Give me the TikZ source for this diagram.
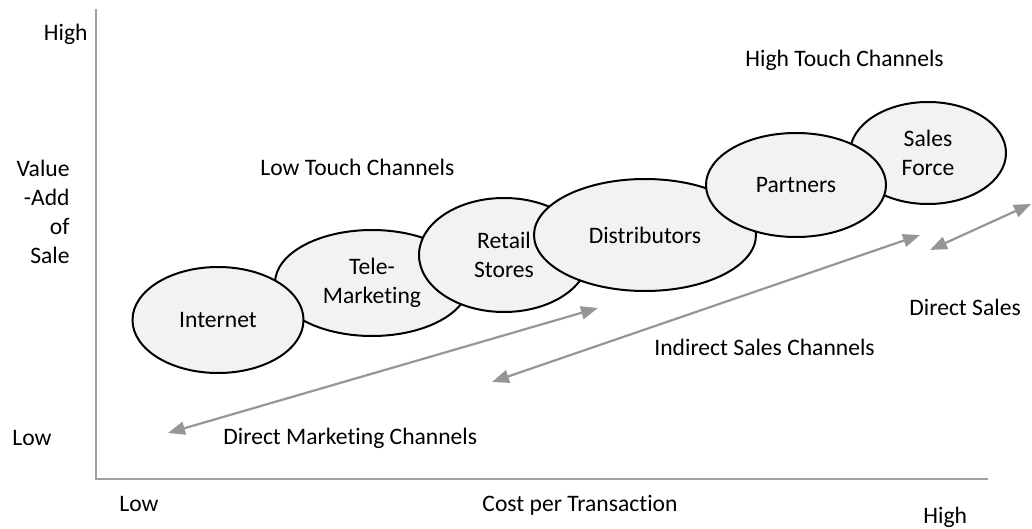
\documentclass[tikz,border=0pt]{standalone}
\usepackage{fontspec}
\setmainfont{Carlito}[Ligatures=NoCommon]
\usepackage{tikz}
\usetikzlibrary{shapes.geometric, arrows.meta}
\definecolor{chanfill}{RGB}{242,242,242}
\definecolor{axisgray}{RGB}{160,160,160}
\definecolor{arrowgray}{RGB}{150,150,150}
\newcommand{\chanfont}{\fontsize{11.8}{14.5}\selectfont}
\tikzset{
    chanellipse/.style={ellipse, draw=black, line width=1pt, fill=chanfill,
        inner sep=0pt, align=center, font=\chanfont},
    axislabel/.style={inner sep=0pt, font=\chanfont},
    axisline/.style={draw=axisgray, line width=1pt},
    chanarrow/.style={{Triangle[length=8.5pt, width=6.5pt]}-{Triangle[length=8.5pt, width=6.5pt]},
        line width=1.1pt, arrowgray},
}

\begin{document}
\begin{tikzpicture}[x=0.5pt, y=-0.5pt]
    \useasboundingbox (0,0) rectangle (1032,529);

    % axes
    \coordinate (ytop) at (96,9);
    \coordinate (origin) at (96,479);
    \coordinate (xend) at (988,479);
    \draw[axisline] (ytop) -- (origin) -- (xend);

    % channels, back to front
    \node[chanellipse, minimum width=97pt, minimum height=53pt] (tele) at (372,283) {Tele-\\Marketing};
    \node[chanellipse, minimum width=85.5pt, minimum height=53pt] (internet) at (218,320) {Internet};
    \node[chanellipse, minimum width=85pt, minimum height=57pt] (retail) at (504,255) {Retail\\Stores};
    \node[chanellipse, minimum width=111pt, minimum height=56pt] (distrib) at (645,235) {Distributors};
    \node[chanellipse, minimum width=78pt, minimum height=51pt] (salesforce) at (928,153) {Sales\\Force};
    \node[chanellipse, minimum width=90pt, minimum height=52pt] (partners) at (796,185) {Partners};

    % axis texts
    \node[axislabel, anchor=base east] (yhigh) at (88,41) {High};
    \node[axislabel, anchor=east, align=right] (yname) at (70,212) {Value\\-Add\\of\\Sale};
    \node[axislabel, anchor=base west] (ylow) at (12,445) {Low};
    \node[axislabel, anchor=base west] (xlow) at (119,511) {Low};
    \node[axislabel, anchor=base] (xname) at (580,511) {Cost per Transaction};
    \node[axislabel, anchor=base west] (xhigh) at (923,523) {High};

    % group texts
    \node[axislabel, anchor=base west] (hightouch) at (745,67) {High Touch Channels};
    \node[axislabel, anchor=base west] (lowtouch) at (260,176) {Low Touch Channels};
    \node[axislabel, anchor=base west] (dmlabel) at (223,444) {Direct Marketing Channels};
    \node[axislabel, anchor=base west] (indlabel) at (654,355) {Indirect Sales Channels};
    \node[axislabel, anchor=base west] (dslabel) at (909,315) {Direct Sales};

    % ranges
    \coordinate (dmlow) at (168,433);
    \coordinate (dmhigh) at (598,308);
    \coordinate (indlow) at (492,382);
    \coordinate (indhigh) at (920,235);
    \coordinate (dslow) at (930,250);
    \coordinate (dshigh) at (1031,204);
    \draw[chanarrow] (dmlow) -- (dmhigh);
    \draw[chanarrow] (indlow) -- (indhigh);
    \draw[chanarrow] (dslow) -- (dshigh);
\end{tikzpicture}
\end{document}
